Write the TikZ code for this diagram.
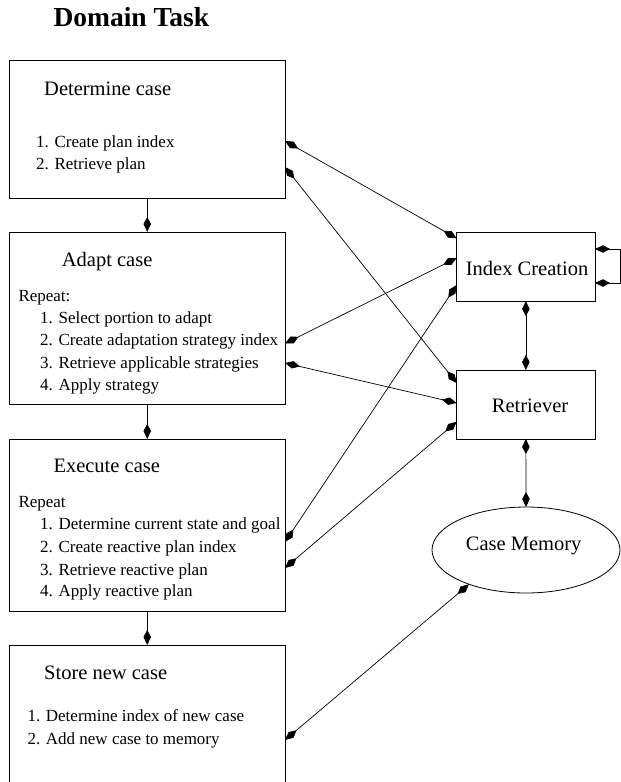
\documentclass[tikz,border=0pt]{standalone}
\usepackage{fontspec}
\setmainfont{Liberation Serif}
\usetikzlibrary{arrows.meta,shapes.geometric}
\begin{document}
\begin{tikzpicture}[x=1pt,y=-1pt,
  >={Kite[length=15pt,width=7.5pt,inset=7pt]},
  box/.style={draw, line width=0.8pt, inner sep=0pt, outer sep=0pt, anchor=north west},
  mbox/.style={box, font=\fontsize{20.5}{24}\selectfont},
  head/.style={anchor=base west, inner sep=0pt, font=\fontsize{20.5}{24}\selectfont},
  item/.style={anchor=base west, inner sep=0pt, font=\fontsize{17}{21}\selectfont},
  link/.style={<->, line width=0.7pt},
  flow/.style={->, line width=0.7pt}]
\useasboundingbox (0,0) rectangle (621,782);
\clip (0,0) rectangle (621,782);

\node[anchor=base west, inner sep=0pt, font=\fontsize{27.5}{32}\selectfont\bfseries] (title) at (53.3,26) {Domain Task};

% left column boxes
\node[box, minimum width=275.5pt, minimum height=138pt] (b1) at (9.5,60) {};
\node[box, minimum width=275.5pt, minimum height=172pt] (b2) at (9.5,232) {};
\node[box, minimum width=275.5pt, minimum height=172pt] (b3) at (9.5,439) {};
\node[box, minimum width=275.5pt, minimum height=175pt] (b4) at (9.5,645) {};

% box texts
\node[head] (h1) at (44,95.5) {Determine case};
\node[item] (t11) at (36,147.7) {1. Create plan index};
\node[item] (t12) at (36,169.3) {2. Retrieve plan};

\node[head] (h2) at (61.7,266.7) {Adapt case};
\node[item] (r2) at (18.3,301.7) {Repeat:};
\node[item] (t21) at (40,323.3) {1. Select portion to adapt};
\node[item] (t22) at (40,345.5) {2. Create adaptation strategy index};
\node[item] (t23) at (40,368) {3. Retrieve applicable strategies};
\node[item] (t24) at (40,390) {4. Apply strategy};

\node[head] (h3) at (53.3,472.7) {Execute case};
\node[item] (r3) at (18.3,507.3) {Repeat};
\node[item] (t31) at (40,529.3) {1. Determine current state and goal};
\node[item] (t32) at (40,552.5) {2. Create reactive plan index};
\node[item] (t33) at (40,575) {3. Retrieve reactive plan};
\node[item] (t34) at (40,596.7) {4. Apply reactive plan};

\node[head] (h4) at (44,679.3) {Store new case};
\node[item] (t41) at (27.3,721.7) {1. Determine index of new case};
\node[item] (t42) at (27.3,744) {2. Add new case to memory};

% right column
\node[mbox, minimum width=138.3pt, minimum height=69pt] (ic) at (456.7,232) {};
\node[head] (ict) at (465.7,275.7) {Index Creation};
\node[mbox, minimum width=138.3pt, minimum height=69pt] (rt) at (456.7,370) {};
\node[head] (rtt) at (491.7,412.7) {Retriever};
\node[draw, ellipse, line width=0.8pt, inner sep=0pt, outer sep=0pt,
      minimum width=188pt, minimum height=86pt] (cm) at (526,550) {};
\node[head] (cmt) at (465.7,550.7) {Case Memory};

% flow arrows
\draw[flow] (b1.south) -- (b2.north);
\draw[flow] (b2.south) -- (b3.north);
\draw[flow] (b3.south) -- (b4.north);

% right column links
\draw[link] (ic.south) -- (rt.north);
\draw[link] (rt.south) -- (cm.north);
\coordinate (lp1) at (620,249);
\coordinate (lp2) at (620,283);
\draw[link] (ic.east |- lp1) -- (lp1) -- (lp2) -- (ic.east |- lp2);

% cross links
\draw[link] (b1.east |- 0,141) -- (ic.west |- 0,238.3);
\draw[link] (b1.east |- 0,167) -- (rt.west |- 0,383);
\draw[link] (b2.east |- 0,343.5) -- (ic.west |- 0,258);
\draw[link] (b2.east |- 0,363) -- (rt.west |- 0,403);
\draw[link] (b3.east |- 0,542) -- (ic.west |- 0,285);
\draw[link] (b3.east |- 0,568) -- (rt.west |- 0,421.7);
\draw[link] (b4.east |- 0,740) -- (cm.211);
\end{tikzpicture}
\end{document}
